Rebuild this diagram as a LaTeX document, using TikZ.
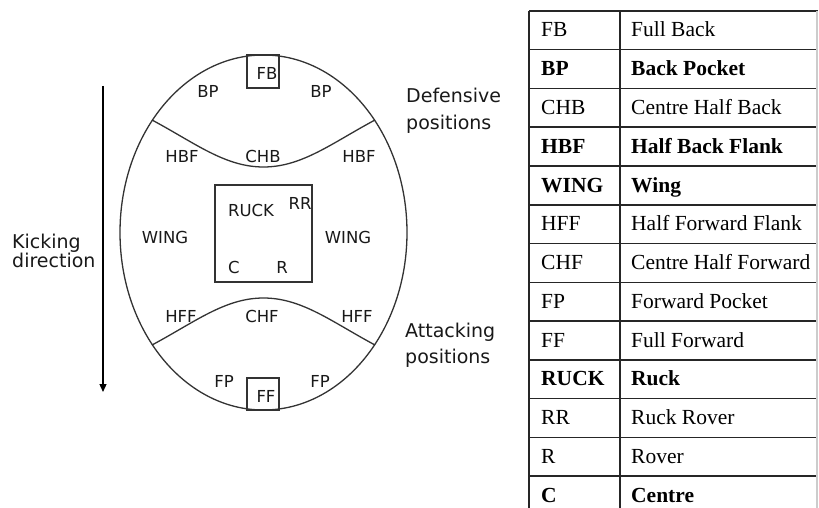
\documentclass[tikz,border=0pt]{standalone}
\usepackage{fontspec}
\setmainfont{Liberation Serif}
\newfontfamily\lblfont{DejaVu Sans}
\usetikzlibrary{arrows.meta}
\begin{document}
\begin{tikzpicture}[x=1pt,y=-1pt,
  field/.style={draw=black!80, line width=1.3pt},
  poslbl/.style={font=\lblfont\fontsize{16.5}{18}\selectfont, inner sep=0pt, text=black!90},
  side/.style={font=\lblfont\fontsize{19}{22}\selectfont, inner sep=0pt, anchor=base west, text=black!90},
  tab/.style={font=\fontsize{21.5}{24}\selectfont, inner sep=0pt, anchor=base west},
  tabb/.style={font=\bfseries\fontsize{21.5}{24}\selectfont, inner sep=0pt, anchor=base west},
  gridline/.style={line width=1.5pt, draw=black!85}]
\useasboundingbox (0,0) rectangle (819,508);
\clip (0,0) rectangle (819,508);
\fill[white] (0,0) rectangle (819,508);

% field
\draw[field] (263.5,232.5) ellipse [x radius=143.5pt, y radius=177.5pt];
\draw[field] (152,120) .. controls (195,143) and (225,167) .. (263.5,167)
             .. controls (302,167) and (332,143) .. (375,120);
\draw[field] (152,345) .. controls (195,322) and (225,298) .. (263.5,298)
             .. controls (302,298) and (332,322) .. (375,345);
\draw[field] (247,55) rectangle (279,88);
\draw[field] (215,185) rectangle (312,282);
\draw[field] (247,378) rectangle (279,410);

% position labels
\node[poslbl] (fb)   at (267,73)  {FB};
\node[poslbl] (bpl)  at (208,91)  {BP};
\node[poslbl] (bpr)  at (321,91)  {BP};
\node[poslbl] (hbfl) at (182,156) {HBF};
\node[poslbl] (chb)  at (263,156) {CHB};
\node[poslbl] (hbfr) at (359,156) {HBF};
\node[poslbl] (ruck) at (251,210) {RUCK};
\node[poslbl] (rr)   at (300,203) {RR};
\node[poslbl] (wl)   at (165,237) {WING};
\node[poslbl] (wr)   at (348,237) {WING};
\node[poslbl] (c)    at (234,267) {C};
\node[poslbl] (r)    at (282,267) {R};
\node[poslbl] (hffl) at (181,316) {HFF};
\node[poslbl] (chf)  at (262,316) {CHF};
\node[poslbl] (hffr) at (357,316) {HFF};
\node[poslbl] (fpl)  at (224,381) {FP};
\node[poslbl] (fpr)  at (320,381) {FP};
\node[poslbl] (ff)   at (266,396) {FF};

% side labels
\node[side] (k1) at (12,248) {Kicking};
\node[side] (k2) at (12,267) {direction};
\node[side] (d1) at (406,103) {Defensive};
\node[side] (d2) at (406,130) {positions};
\node[side] (t1) at (405,337) {Attacking};
\node[side] (t2) at (405,363) {positions};

% arrow
\coordinate (atop) at (103,86);
\coordinate (abot) at (103,392);
\draw[line width=1.3pt, -{Triangle[length=8pt,width=7pt]}] (atop) -- (abot);

% table
\foreach \k in {0,...,13}
  \draw[gridline] (529,{11+38.75*\k}) -- (818,{11+38.75*\k});
\draw[gridline] (529,11) -- (529,520);
\draw[gridline] (620,11) -- (620,520);
\draw[line width=1.2pt, draw=black!20] (817,11) -- (817,520);

\foreach \ab/\full/\st [count=\i from 0] in {
  FB/Full Back/tab, BP/Back Pocket/tabb, CHB/Centre Half Back/tab,
  HBF/Half Back Flank/tabb, WING/Wing/tabb, HFF/Half Forward Flank/tab,
  CHF/Centre Half Forward/tab, FP/Forward Pocket/tab, FF/Full Forward/tab,
  RUCK/Ruck/tabb, RR/Ruck Rover/tab, R/Rover/tab, C/Centre/tabb} {
  \node[\st] (a\i) at (541,{37+38.75*\i}) {\ab};
  \node[\st] (f\i) at (631,{37+38.75*\i}) {\full};
}
\end{tikzpicture}
\end{document}
